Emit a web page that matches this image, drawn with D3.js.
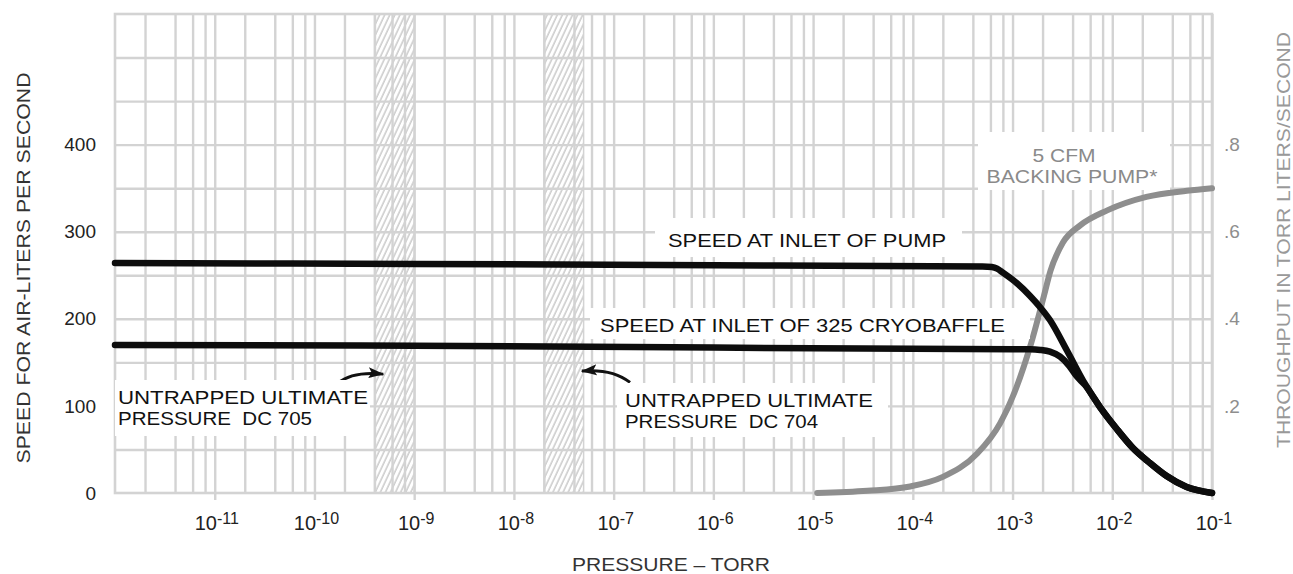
<!DOCTYPE html>
<html>
<head>
<meta charset="utf-8">
<script src="https://cdn.jsdelivr.net/npm/d3@7/dist/d3.min.js"></script>
<style>
    body { margin: 0; background: #fff; }
    svg { display: block; font-family: "Liberation Sans", Arial, Helvetica, sans-serif; }
    text { white-space: pre; }
</style>
</head>
<body>
<div id="chart"></div>
<script>
// ---- values ----
const decadeExponents = [-11, -10, -9, -8, -7, -6, -5, -4, -3, -2, -1];
const speedTicks = [0, 100, 200, 300, 400];
const throughputTicks = [0.2, 0.4, 0.6, 0.8];
const throughputTickLabels = ['.2', '.4', '.6', '.8'];

// [pressure (torr), speed (l/s)]
const pumpSpeed = [
    [1e-12, 264], [1e-9, 263], [1e-6, 261.5], [5.0e-4, 260], [6.2e-4, 259.4], [7.0e-4, 257.6],
    [8.0e-4, 253], [1.1e-3, 241.1], [1.5e-3, 226.2], [1.88e-3, 213.6], [2.37e-3, 198.6],
    [3.49e-3, 164.2], [5.33e-3, 125.2], [7.53e-3, 98.7], [1.11e-2, 73.5], [1.61e-2, 51.7],
    [2.39e-2, 34.4], [3.51e-2, 19.5], [5.57e-2, 6.9], [1e-1, 0]
];
const cryoSpeed = [
    [1e-12, 170], [1e-9, 169], [1e-6, 167], [1e-3, 165], [1.5e-3, 165], [1.9e-3, 164.3],
    [2.37e-3, 162.3], [3.0e-3, 156.5], [3.7e-3, 146], [4.4e-3, 134], [5.33e-3, 124],
    [7.53e-3, 98.7], [1.11e-2, 73.5], [1.61e-2, 51.7],
    [2.39e-2, 34.4], [3.51e-2, 19.5], [5.57e-2, 6.9], [1e-1, 0]
];
// [pressure (torr), throughput (torr l/s)]
const backingThroughput = [
    [1.1e-5, 0], [3.5e-5, 0.005], [9.4e-5, 0.015], [2.0e-4, 0.037], [4.4e-4, 0.09],
    [7.5e-4, 0.16], [1.1e-3, 0.244], [1.5e-3, 0.336], [2.05e-3, 0.45], [2.4e-3, 0.51],
    [3.2e-3, 0.575], [4.8e-3, 0.615], [8.9e-3, 0.649], [2.2e-2, 0.68], [5.6e-2, 0.694], [1e-1, 0.70]
];
// untrapped ultimate pressure bands [from, to]
const bandNames = ['DC 705', 'DC 704'];
const bandRanges = [[4e-10, 1e-9], [2e-8, 5e-8]];

// ---- layout ----
const width = 1293, height = 574;
const margin = {top: 14, right: 81, bottom: 81, left: 115};
const iw = width - margin.left - margin.right;
const ih = height - margin.top - margin.bottom;

const x = d3.scaleLog().domain([1e-12, 1e-1]).range([0, iw]);
const y = d3.scaleLinear().domain([0, 550]).range([ih, 0]);
const y2 = d3.scaleLinear().domain([0, 1.1]).range([ih, 0]);

const gridColor = '#d3d3d3';

const svg = d3.select('#chart').append('svg')
    .attr('width', width)
    .attr('height', height);

// hatch pattern + arrow head
const defs = svg.append('defs');
defs.append('pattern')
    .attr('id', 'hatch')
    .attr('patternUnits', 'userSpaceOnUse')
    .attr('width', 4.6).attr('height', 10)
    .attr('patternTransform', 'rotate(25)')
  .append('line')
    .attr('x1', 1).attr('y1', 0).attr('x2', 1).attr('y2', 10)
    .attr('stroke', '#bdbdbd').attr('stroke-width', 1.2);
defs.append('marker')
    .attr('id', 'arrow')
    .attr('markerUnits', 'userSpaceOnUse')
    .attr('viewBox', '0 0 16 12')
    .attr('refX', 15).attr('refY', 6)
    .attr('markerWidth', 16).attr('markerHeight', 12)
    .attr('orient', 'auto')
  .append('path')
    .attr('d', 'M0,0.5 L16,6 L0,11.5 L3.5,6 Z')
    .attr('fill', '#111');

const g = svg.append('g')
    .attr('transform', `translate(${margin.left},${margin.top})`);

// bands
g.append('g').selectAll('rect')
    .data(bandRanges)
    .join('rect')
    .attr('x', d => x(d[0]))
    .attr('width', d => x(d[1]) - x(d[0]))
    .attr('y', 0).attr('height', ih)
    .attr('fill', 'url(#hatch)')
    .attr('stroke', gridColor).attr('stroke-width', 1.5);

// vertical grid: 2,4,6,8,10 in each decade
const gridX = [];
for (let e = -12; e <= -2; e++) [2, 4, 6, 8, 10].forEach(m => gridX.push(m * Math.pow(10, e)));
g.append('g')
    .attr('class', 'grid')
    .attr('transform', `translate(0,${ih})`)
    .call(d3.axisBottom(x).tickValues(gridX).tickSize(-ih).tickFormat(''))
    .call(s => s.select('.domain').remove());
// horizontal grid every 50
g.append('g')
    .attr('class', 'grid')
    .call(d3.axisLeft(y).tickValues(d3.range(50, 550, 50)).tickSize(-iw).tickFormat(''))
    .call(s => s.select('.domain').remove());
g.selectAll('.grid line').attr('stroke', gridColor).attr('stroke-width', 2.4);

// frame
g.append('rect')
    .attr('width', iw).attr('height', ih)
    .attr('fill', 'none')
    .attr('stroke', gridColor).attr('stroke-width', 2.6);

// decade tick marks under the frame
g.append('g')
    .attr('transform', `translate(0,${ih})`)
    .call(d3.axisBottom(x).tickValues(decadeExponents.map(e => Math.pow(10, e))).tickSize(7).tickFormat(''))
    .call(s => s.select('.domain').remove())
    .call(s => s.selectAll('line').attr('stroke', gridColor).attr('stroke-width', 2.4));

// white boxes behind annotations (page pixels)
const boxes = [
    [655, 218, 962, 257], [590, 308, 1030, 339],
    [115, 380, 370, 436], [617, 383, 888, 437], [978, 132, 1170, 190]
];
svg.append('g').selectAll('rect')
    .data(boxes)
    .join('rect')
    .attr('x', d => d[0]).attr('y', d => d[1])
    .attr('width', d => d[2] - d[0]).attr('height', d => d[3] - d[1])
    .attr('fill', '#fff');

// curves
const speedLine = d3.line()
    .x(d => x(d[0])).y(d => y(d[1]))
    .curve(d3.curveMonotoneX);
const throughputLine = d3.line()
    .x(d => x(d[0])).y(d => y2(d[1]))
    .curve(d3.curveMonotoneX);

g.append('path')
    .datum(backingThroughput)
    .attr('d', throughputLine)
    .attr('fill', 'none').attr('stroke', '#8e8e8e')
    .attr('stroke-width', 6).attr('stroke-linecap', 'round');
g.selectAll('path.speed')
    .data([cryoSpeed, pumpSpeed])
    .join('path')
    .classed('speed', true)
    .attr('d', speedLine)
    .attr('fill', 'none').attr('stroke', '#0d0d0d')
    .attr('stroke-width', 6.5).attr('stroke-linecap', 'round');

// arrows pointing at the bands (data coordinates: tail, control, tip)
const arrows = [
    [[1.72e-10, 126], [2.4e-10, 140], [4.9e-10, 136.5]],
    [[1.46e-7, 127], [9.7e-8, 143], [4.8e-8, 140]]
];
g.append('g').selectAll('path')
    .data(arrows)
    .join('path')
    .attr('d', d => `M${x(d[0][0])},${y(d[0][1])} Q${x(d[1][0])},${y(d[1][1])} ${x(d[2][0])},${y(d[2][1])}`)
    .attr('fill', 'none').attr('stroke', '#111').attr('stroke-width', 3)
    .attr('marker-end', 'url(#arrow)');

// annotation text (page pixels): text, x, baseline, length, anchor, colour
const notes = [
    ['SPEED AT INLET OF PUMP', 668, 247, 278, 'start', '#111'],
    ['SPEED AT INLET OF 325 CRYOBAFFLE', 600, 332, 405, 'start', '#111'],
    ['UNTRAPPED ULTIMATE', 118, 404, 250, 'start', '#111'],
    ['PRESSURE  DC 705', 118, 425, 194, 'start', '#111'],
    ['UNTRAPPED ULTIMATE', 625, 407, 248, 'start', '#111'],
    ['PRESSURE  DC 704', 625, 428, 193, 'start', '#111'],
    ['5 CFM', 1064, 162, 63, 'middle', '#8a8a8a'],
    ['BACKING PUMP*', 1072, 183, 171, 'middle', '#8a8a8a']
];
svg.append('g').selectAll('text')
    .data(notes)
    .join('text')
    .attr('x', d => d[1]).attr('y', d => d[2])
    .attr('text-anchor', d => d[4])
    .attr('textLength', d => d[3])
    .attr('lengthAdjust', 'spacingAndGlyphs')
    .attr('fill', d => d[5])
    .attr('font-size', 19)
    .text(d => d[0]);

// left axis labels
g.append('g')
    .call(d3.axisLeft(y).tickValues(speedTicks).tickSize(0).tickPadding(19))
    .call(s => s.select('.domain').remove())
    .call(s => s.selectAll('text')
        .attr('font-size', 19).attr('fill', '#222')
        .attr('font-family', '"Liberation Sans", Arial, sans-serif'));

// right axis labels
g.append('g')
    .attr('transform', `translate(${iw},0)`)
    .call(d3.axisRight(y2).tickValues(throughputTicks).tickSize(0).tickPadding(12)
        .tickFormat((d, i) => throughputTickLabels[i]))
    .call(s => s.select('.domain').remove())
    .call(s => s.selectAll('text')
        .attr('font-size', 19).attr('fill', '#8e8e8e')
        .attr('font-family', '"Liberation Sans", Arial, sans-serif'));

// bottom axis labels: 10 with superscript exponent
const xl = g.append('g').selectAll('text')
    .data(decadeExponents)
    .join('text')
    .attr('x', d => x(Math.pow(10, d)) + 2)
    .attr('y', ih + 37)
    .attr('text-anchor', 'middle')
    .attr('fill', '#222')
    .attr('font-size', 20);
xl.append('tspan').text('10');
xl.append('tspan').attr('dy', -6).attr('font-size', 16).text(d => d);

// axis titles
svg.append('text')
    .attr('transform', 'translate(30,268) rotate(-90)')
    .attr('text-anchor', 'middle')
    .attr('font-size', 18).attr('fill', '#333')
    .attr('textLength', 391).attr('lengthAdjust', 'spacingAndGlyphs')
    .text('SPEED FOR AIR-LITERS PER SECOND');
svg.append('text')
    .attr('transform', 'translate(1290,240) rotate(-90)')
    .attr('text-anchor', 'middle')
    .attr('font-size', 18).attr('fill', '#999')
    .attr('textLength', 416).attr('lengthAdjust', 'spacingAndGlyphs')
    .text('THROUGHPUT IN TORR LITERS/SECOND');
svg.append('text')
    .attr('x', 671).attr('y', 571)
    .attr('text-anchor', 'middle')
    .attr('font-size', 18).attr('fill', '#333')
    .attr('textLength', 198).attr('lengthAdjust', 'spacingAndGlyphs')
    .text('PRESSURE \u2013 TORR');
</script>
</body>
</html>
